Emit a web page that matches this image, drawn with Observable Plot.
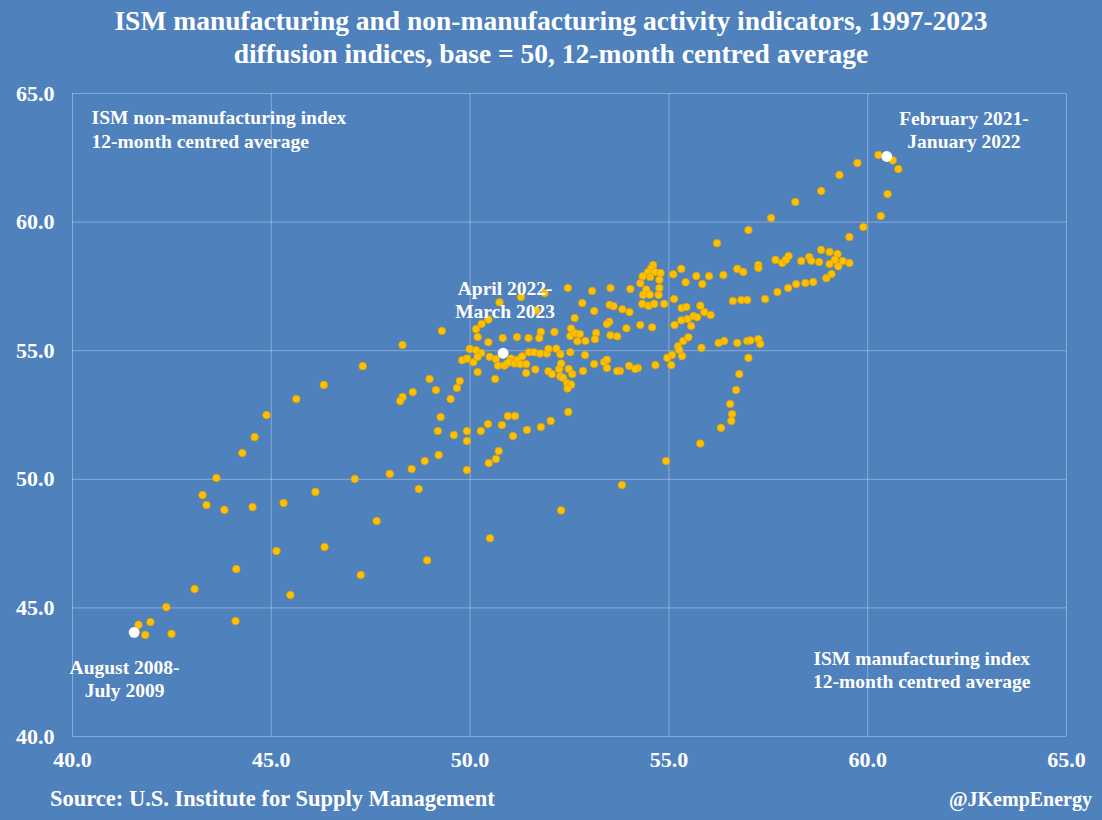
<!DOCTYPE html>
<html><head><meta charset="utf-8">
<script src="https://cdn.jsdelivr.net/npm/d3@7"></script>
<script src="https://cdn.jsdelivr.net/npm/@observablehq/plot@0.6"></script>
<style>
html,body{margin:0;padding:0;background:#4F81BD;}
#wrap{position:relative;width:1102px;height:820px;background:#4F81BD;font-family:"Liberation Serif",serif;color:#fff;font-weight:bold;overflow:hidden}
#title{position:absolute;top:4px;left:0;width:1102px;text-align:center;font-size:27.5px;line-height:33px}
#source{position:absolute;left:50px;top:786px;font-size:22.5px}
#handle{position:absolute;right:10px;top:788px;font-size:20px}
#chart{position:absolute;left:0;top:0}
</style></head>
<body><div id="wrap">
<div id="chart"></div>
<div id="title">ISM manufacturing and non-manufacturing activity indicators, 1997-2023<br>diffusion indices, base = 50, 12-month centred average</div>
<div id="source">Source: U.S. Institute for Supply Management</div>
<div id="handle">@JKempEnergy</div>
</div>
<script>
// [ISM manufacturing, ISM non-manufacturing] 12-month centred averages
const pointsLow = [
[47.30,54.40],[46.32,53.67],[45.63,53.12],[44.88,52.50],[44.58,51.64],[44.27,51.02],[43.62,50.05],[47.10,50.01],
[43.27,49.39],[43.37,49.00],[43.82,48.81],[44.53,48.92],[45.31,49.08],[46.11,49.51],[47.65,48.38],[45.13,47.21],
[46.34,47.37],[44.12,46.51],[47.25,46.28],[43.07,45.73],[45.48,45.50],[42.36,45.03],[41.96,44.45],[41.66,44.34],
[44.10,44.49],[41.83,43.95],[42.49,43.99]
];
const pointsMid = [
[50.74,56.88],[51.66,56.56],[52.63,56.27],[51.87,57.24],[51.28,57.09],[50.29,56.04],[50.46,56.21],[50.15,55.84],
[49.29,55.77],[48.30,55.22],[50.19,55.53],[50.46,55.33],[50.82,55.49],[51.18,55.53],[51.47,55.49],[51.78,55.73],
[51.74,55.49],[52.12,55.73],[52.54,55.86],[52.52,55.57],[52.64,55.68],[52.70,55.37],[49.99,55.07],[50.28,54.91],
[50.15,55.02],[50.49,54.76],[50.65,54.68],[50.70,54.42],[50.86,54.42],[50.93,54.50],[51.03,54.69],[50.99,54.56],
[51.12,54.50],[51.20,54.65],[51.31,54.78],[51.26,54.48],[51.41,54.48],[51.41,54.13],[51.48,54.94],[51.61,54.94],
[51.76,54.89],[51.93,54.89],[51.97,55.07],[52.17,55.08],[52.27,54.86],[52.52,54.94],[51.64,54.27],[51.97,54.20],
[52.06,54.09],[52.24,54.29],[52.29,54.50],[52.48,54.29],[52.57,54.09],[52.27,54.00],[52.34,53.94],[52.44,53.74],
[52.54,53.68],[52.45,53.53],[50.63,53.90],[49.80,54.63],[49.92,54.69],[50.08,54.55],[50.19,54.76],[50.19,54.17],
[48.98,53.90],[49.74,53.82],[49.67,53.55],[49.14,53.47],[48.56,53.39],[48.30,53.20],[48.24,53.04],[49.51,53.12],
[52.47,52.62],[49.26,52.42],[50.95,52.46],[51.13,52.46],[49.19,51.88],[49.92,51.88],[50.27,51.88],[50.45,52.15],
[50.80,52.11],[49.59,51.72],[49.92,51.49],[51.08,51.68],[51.43,51.92],[51.78,52.03],[52.03,52.27],[49.21,50.94],
[48.86,50.71],[48.53,50.40],[47.98,50.21],[50.72,51.10],[50.65,50.79],[50.47,50.63],[49.92,50.36],[48.71,49.62],
[48.92,46.85],[50.50,47.71],[52.29,48.79]
];
const pointsHigh = [
[56.21,59.18],[52.46,57.44],[53.07,57.32],[52.82,56.85],[53.12,56.54],[52.76,55.65],[53.17,55.69],[53.14,55.45],
[52.90,55.38],[56.72,58.18],[56.87,58.06],[57.25,58.33],[56.37,57.94],[56.61,56.93],[56.82,56.97],[56.97,56.97],
[56.39,55.38],[56.72,55.30],[56.97,55.38],[57.05,55.40],[57.25,55.45],[57.30,55.26],[57.00,54.72],[56.77,54.09],
[56.69,53.47],[56.54,52.93],[56.59,52.54],[56.57,52.27],[56.31,52.00],[55.79,51.39],[54.93,50.71],[53.82,49.78],
[55.08,54.83],[54.96,54.72],[55.33,54.79],[55.06,54.44],[54.66,54.44],[54.22,54.33],[54.15,54.29],[54.00,54.41],
[53.77,54.21],[53.70,54.21],[53.44,54.33],[53.37,54.56],[53.44,54.65],[53.12,54.48],[52.84,54.21],[52.89,54.83],
[54.60,58.33],[54.55,58.19],[54.47,58.05],[54.65,58.06],[54.79,58.02],[54.34,57.89],[54.53,57.87],[54.76,57.76],
[54.28,57.62],[54.43,57.38],[54.76,57.44],[54.35,57.17],[54.52,57.18],[54.74,57.17],[54.33,56.82],[54.49,56.75],
[54.63,56.82],[54.88,56.82],[53.53,57.44],[54.03,57.40],[53.51,56.78],[53.61,56.73],[53.83,56.61],[54.01,56.50],
[53.50,56.12],[53.44,56.04],[53.93,55.87],[54.28,56.00],[54.58,55.91],[53.53,55.60],[53.70,55.56],[55.11,57.97],
[55.31,58.18],[55.42,57.66],[55.69,57.90],[55.84,57.59],[56.01,57.90],[55.13,57.01],[55.32,56.66],[55.44,56.70],
[55.79,56.75],[55.89,56.50],[56.05,56.39],[55.31,56.18],[55.47,56.23],[55.62,56.35],[55.71,56.30],[55.14,56.00],
[55.56,55.96],[55.36,55.38],[55.49,55.52],[55.23,55.17],[55.82,55.11],[56.25,55.30],[55.26,55.03]
];
const pointsPeak = [
[60.27,62.61],[60.63,62.40],[60.77,62.06],[60.50,61.09],[60.33,60.24],[59.89,59.81],[59.54,59.42],[59.74,62.30],
[59.29,61.83],[58.83,61.21],[58.18,60.78],[57.57,60.16],[57.00,59.69],[58.83,58.92],[59.04,58.84],[59.24,58.76],
[58.01,58.68],[57.68,58.53],[57.85,58.41],[57.94,58.53],[58.33,58.49],[58.53,58.64],[58.58,58.50],[58.78,58.45],
[59.17,58.53],[59.04,58.37],[59.26,58.28],[59.37,58.49],[59.54,58.41],[59.09,57.98],[58.96,57.82],[58.63,57.67],
[58.43,57.63],[58.20,57.59],[58.00,57.44],[57.73,57.28],[57.42,57.01],[57.25,58.22]
];
// highlighted periods
const highlightPeriods = ["August 2008-July 2009", "April 2022-March 2023", "February 2021-January 2022"];
const highlightManufacturing = [41.55, 50.83, 60.48];
const highlightNonManufacturing = [44.05, 54.90, 62.55];
// annotations
const leftNoteTexts = ["ISM non-manufacturing index\n12-month centred average"];
const leftNoteX = [40.48];
const leftNoteY = [63.64];
const noteTexts = ["February 2021-\nJanuary 2022", "April 2022-\nMarch 2023", "August 2008-\nJuly 2009",
  "ISM manufacturing index\n12-month centred average"];
const noteX = [62.42, 50.88, 41.31, 61.36];
const noteY = [63.62, 57.02, 42.26, 42.62];
const tickValues = [40, 45, 50, 55, 60, 65];

const points = [...pointsLow, ...pointsMid, ...pointsHigh, ...pointsPeak].map(([m, n]) => ({m, n}));
const highlights = highlightPeriods.map((p, i) => ({p, m: highlightManufacturing[i], n: highlightNonManufacturing[i]}));
const notes = noteTexts.map((t, i) => ({t, x: noteX[i], y: noteY[i]}));
const leftNotes = leftNoteTexts.map((t, i) => ({t, x: leftNoteX[i], y: leftNoteY[i]}));
const fmt = d => d.toFixed(1);

const chart = Plot.plot({
  width: 1102, height: 820,
  marginLeft: 72, marginRight: 36, marginTop: 93, marginBottom: 84,
  style: {background: "transparent", color: "#fff", fontFamily: "'Liberation Serif', serif", fontWeight: "bold", fontSize: "22px"},
  x: {domain: [40, 65]},
  y: {domain: [40, 65]},
  marks: [
    Plot.gridX(tickValues, {stroke: "#ffffff", strokeOpacity: 0.33, strokeWidth: 1}),
    Plot.gridY(tickValues, {stroke: "#ffffff", strokeOpacity: 0.33, strokeWidth: 1}),
    Plot.axisX(tickValues, {tickSize: 0, tickPadding: 15, tickFormat: fmt, label: null, fontSize: 22, fill: "#fff"}),
    Plot.axisY(tickValues, {tickSize: 0, tickPadding: 18, tickFormat: fmt, label: null, fontSize: 22, fill: "#fff"}),
    Plot.dot(points, {x: "m", y: "n", r: 3.8, fill: "#FFC000", stroke: "#D9A400", strokeWidth: 0.7}),
    Plot.dot(highlights, {x: "m", y: "n", r: 5.4, fill: "#ffffff"}),
    Plot.text(notes, {x: "x", y: "y", text: "t", textAnchor: "middle", fontSize: 19.5, fill: "#fff", lineHeight: 1.18, fontWeight: "bold"}),
    Plot.text(leftNotes, {x: "x", y: "y", text: "t", textAnchor: "start", fontSize: 19.5, fill: "#fff", lineHeight: 1.22, fontWeight: "bold"})
  ]
});
document.getElementById("chart").appendChild(chart);
</script>
</body></html>
